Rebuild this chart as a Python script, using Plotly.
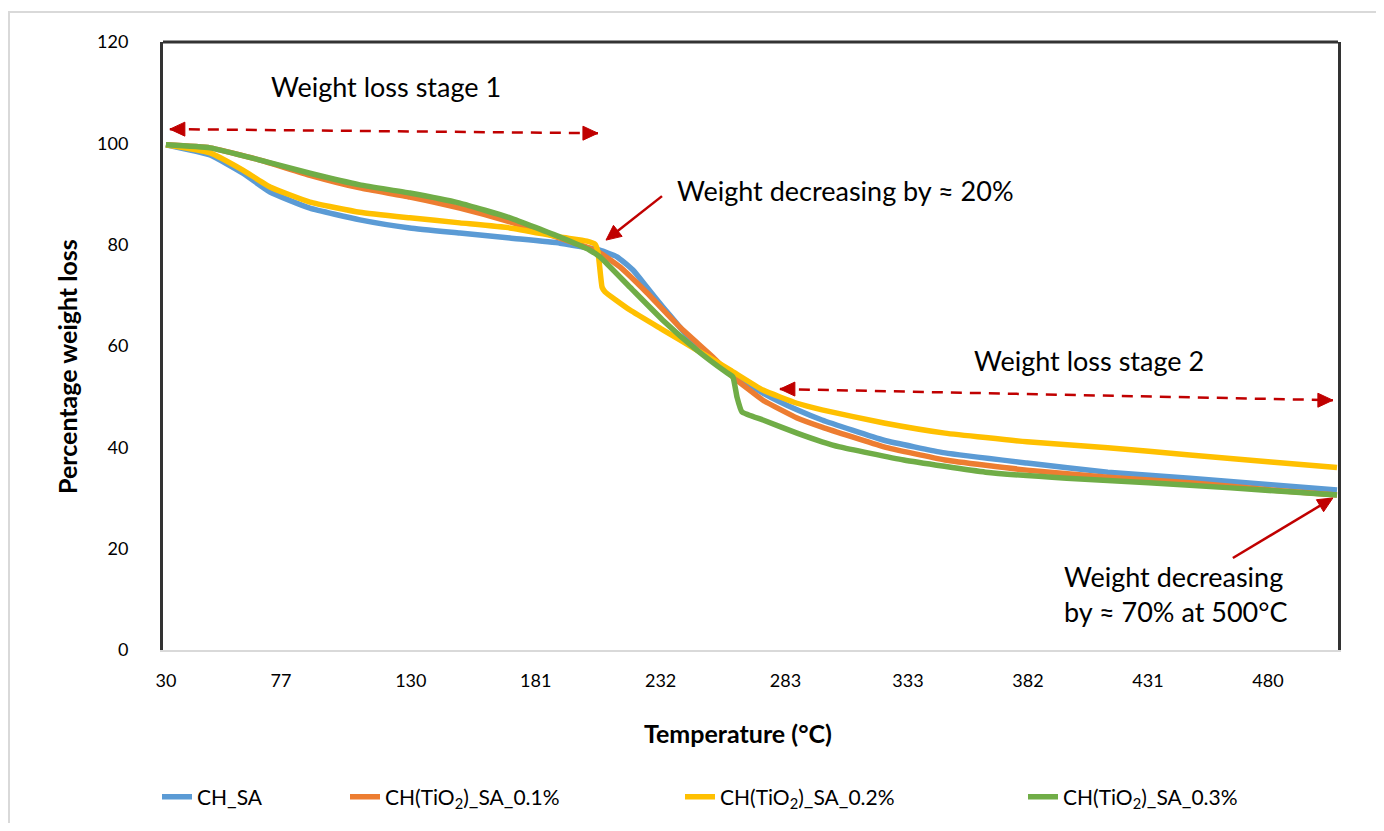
import plotly.graph_objects as go

# ---------------- data ----------------
series_names = ["CH_SA", "CH(TiO<sub>2</sub>)_SA_0.1%", "CH(TiO<sub>2</sub>)_SA_0.2%", "CH(TiO<sub>2</sub>)_SA_0.3%"]
series_colors = ["#5B9BD5", "#ED7D31", "#FFC000", "#70AD47"]

ch_sa_temp = [30, 48, 61.4, 72.5, 88.8, 109.2, 129.6, 150, 170.5, 190.9, 203.1, 207.2, 214.2, 220.7, 226.4,
              232.9, 239.9, 246.8, 253.4, 260.3, 273.8, 287.7, 297.9, 323.2, 348.1, 381.6, 414.6, 448.1, 481.2, 508.2]
ch_sa_wt = [99.7, 97.7, 94.1, 90.4, 87.2, 84.9, 83.3, 82.3, 81.3, 80.3, 79.3, 78.9, 77.6, 75.0, 71.6,
            67.7, 63.7, 59.8, 57.2, 54.7, 50.7, 47.4, 45.4, 41.4, 38.9, 36.9, 35.1, 33.9, 32.6, 31.6]

tio2_01_temp = [30, 48, 68.4, 88.8, 109.2, 129.6, 150, 170.5, 190.9, 203.1, 207.2, 215.4, 226.4, 239.9,
                253.4, 261.5, 273.8, 287.7, 297.9, 323.2, 348.1, 381.6, 414.6, 448.1, 481.2, 508.2]
tio2_01_wt = [99.7, 99.1, 96.7, 93.7, 91.2, 89.4, 87.2, 84.5, 81.3, 79.3, 78.4, 75.6, 70.5, 63.7,
              57.8, 53.9, 49.3, 45.8, 44.0, 40.1, 37.5, 35.5, 34.1, 33.0, 31.6, 30.6]

tio2_02_temp = [30, 48, 61.4, 72.5, 88.8, 109.2, 129.6, 150, 170.5, 190.9, 201.9, 205.2, 206.4, 208.1, 209.3,
                219.5, 232.9, 246.8, 260.3, 273.8, 287.7, 297.9, 323.2, 348.1, 381.6, 414.6, 448.1, 481.2, 508.2]
tio2_02_wt = [99.7, 98.1, 94.7, 91.4, 88.4, 86.4, 85.3, 84.3, 83.3, 81.5, 80.7, 80.1, 78.6, 71.6, 70.7,
              67.1, 63.2, 59.2, 55.3, 51.3, 48.7, 47.4, 44.8, 42.8, 41.1, 39.9, 38.5, 37.1, 36.0]

tio2_03_temp = [30, 48, 68.4, 88.8, 109.2, 129.6, 150, 170.5, 190.9, 203.1, 207.2, 219.5, 232.9, 246.8,
                259.1, 261.5, 263.2, 265.2, 273.8, 287.7, 297.9, 305.1, 331.3, 364.7, 397.8, 431.3, 464.8, 508.2]
tio2_03_wt = [99.7, 99.1, 96.7, 94.1, 91.8, 90.2, 88.2, 85.3, 81.5, 78.9, 77.6, 71.6, 65.1, 59.2,
              54.7, 53.9, 49.9, 47.0, 45.4, 42.8, 41.1, 40.1, 37.5, 35.1, 33.9, 33.0, 32.0, 30.6]

x_tick_labels = [30, 77, 130, 181, 232, 283, 333, 382, 431, 480]
y_tick_values = [0, 20, 40, 60, 80, 100, 120]

x_title = "Temperature (°C)"
y_title = "Percentage weight loss"
note_stage1 = "Weight loss stage 1"
note_stage2 = "Weight loss stage 2"
note_20 = "Weight decreasing by ≈ 20%"
note_70 = "Weight decreasing<br>by ≈ 70% at 500°C"

# ---------------- figure ----------------
FONT = "Lato"
RED = "#C00000"

temps = [ch_sa_temp, tio2_01_temp, tio2_02_temp, tio2_03_temp]
wts = [ch_sa_wt, tio2_01_wt, tio2_02_wt, tio2_03_wt]
legend_ids = ["legend", "legend2", "legend3", "legend4"]

fig = go.Figure()
for name, color, t, w, lg in zip(series_names, series_colors, temps, wts, legend_ids):
    fig.add_trace(go.Scatter(x=t, y=w, mode="lines", name=name,
                             line=dict(color=color, width=5.5, shape="spline", smoothing=0.4),
                             legend=lg))

# page has an 8px body margin: figure is placed at screen (8, 8)
OFF = 8
W, H = 1368, 815
PL, PR, PT, PB = 163, 1338, 42, 650          # plot area in screen pixels
ML, MR, MT = PL - OFF, W - (PR - OFF), PT - OFF
MB = H - (PB - OFF)
pw = PR - PL
ph = PB - PT

def sx(px):  # screen x -> paper
    return (px - PL) / pw

def sy(py):  # screen y -> paper
    return (PB - py) / ph

legend_font = dict(family=FONT, size=21, color="#000000")
legend_x_px = [157, 345, 680, 1023]
legend_cfg = {}
for lg, xp in zip(legend_ids, legend_x_px):
    legend_cfg[lg] = dict(x=sx(xp), y=sy(797), xanchor="left", yanchor="middle",
                          orientation="h", font=legend_font, bgcolor="rgba(0,0,0,0)")

fig.update_layout(
    width=W, height=H,
    margin=dict(l=ML, r=MR, t=MT, b=MB, autoexpand=False),
    paper_bgcolor="white", plot_bgcolor="white",
    font=dict(family=FONT, color="#000000"),
    showlegend=True,
    **legend_cfg,
)

fig.update_xaxes(
    range=[28.8, 508.6], tickmode="array", tickvals=x_tick_labels,
    ticktext=[str(v) for v in x_tick_labels], showgrid=False, zeroline=False,
    showline=True, linecolor="#D9D9D9", linewidth=2, ticks="",
    tickfont=dict(family=FONT, size=18, color="#000000"), ticklabelstandoff=13,
)
fig.update_yaxes(
    range=[0, 120], tickmode="array", tickvals=y_tick_values, showgrid=False, zeroline=False,
    showline=True, linecolor="#333333", linewidth=3, mirror=True, ticks="",
    tickfont=dict(family=FONT, size=18, color="#000000"), ticklabelstandoff=28,
)

# axis titles (placed as in the reference, slightly off-centre)
title_font = dict(family=FONT, size=25, color="#000000")
fig.add_annotation(xref="paper", yref="paper", x=sx(738), y=sy(733), text="<b>" + x_title + "</b>",
                   showarrow=False, font=title_font, xanchor="center", yanchor="middle")
fig.add_annotation(xref="paper", yref="paper", x=sx(67), y=sy(367), text="<b>" + y_title + "</b>",
                   showarrow=False, font=title_font, textangle=-90, xanchor="center", yanchor="middle")

# top frame line
fig.add_shape(type="line", xref="x domain", yref="y domain", x0=0, x1=1, y0=1, y1=1,
              line=dict(color="#333333", width=3))
# outer chart border
fig.add_shape(type="rect", xref="paper", yref="paper",
              x0=sx(9), x1=sx(1400), y0=sy(845), y1=sy(12),
              line=dict(color="#D9D9D9", width=2), fillcolor="rgba(0,0,0,0)", layer="below")

HEAD_LEN, HEAD_HALF = 15, 7

def arrowhead(xa, ya, dx, dy):
    """filled triangle with its tip at data point (xa, ya); (dx, dy) pixel direction, y up."""
    n = (dx * dx + dy * dy) ** 0.5
    ux, uy = dx / n, dy / n
    bx, by = -HEAD_LEN * ux, -HEAD_LEN * uy
    px_, py_ = -uy * HEAD_HALF, ux * HEAD_HALF
    path = f"M0,0 L{bx + px_:.2f},{by + py_:.2f} L{bx - px_:.2f},{by - py_:.2f} Z"
    fig.add_shape(type="path", xref="x", yref="y", xsizemode="pixel", ysizemode="pixel",
                  xanchor=xa, yanchor=ya, path=path, fillcolor=RED, line=dict(color=RED, width=1))

def dashed_double_arrow(x0, y0, x1, y1):
    fig.add_shape(type="line", xref="x", yref="y", x0=x0, y0=y0, x1=x1, y1=y1,
                  line=dict(color=RED, width=2.5, dash="11px,8px"))
    arrowhead(x0, y0, -1, 0)
    arrowhead(x1, y1, 1, 0)

def solid_arrow(xa, ya, tail_dx, tail_dy):
    """head at data point (xa, ya); tail offset in pixels (y up)."""
    n = (tail_dx ** 2 + tail_dy ** 2) ** 0.5
    fig.add_shape(type="line", xref="x", yref="y", xsizemode="pixel", ysizemode="pixel",
                  xanchor=xa, yanchor=ya,
                  x0=tail_dx / n * HEAD_LEN * 0.8, y0=tail_dy / n * HEAD_LEN * 0.8,
                  x1=tail_dx, y1=tail_dy, line=dict(color=RED, width=2.5))
    arrowhead(xa, ya, -tail_dx, -tail_dy)

dashed_double_arrow(31.6, 102.8, 206.4, 102.0)
dashed_double_arrow(280.7, 51.5, 506.5, 49.3)
solid_arrow(209.7, 80.9, 56, 44)
solid_arrow(506.5, 30.0, -100, -60)

note_font = dict(family=FONT, size=27, color="#000000")
fig.add_annotation(x=119.8, y=111.3, text=note_stage1, showarrow=False, font=note_font)
fig.add_annotation(x=307.3, y=90.6, text=note_20, showarrow=False, font=note_font)
fig.add_annotation(x=406.9, y=57.2, text=note_stage2, showarrow=False, font=note_font)
fig.add_annotation(x=396.0, y=11.1, text=note_70, showarrow=False, font=note_font,
                   xanchor="left", align="left")

fig.write_html("out.html")
